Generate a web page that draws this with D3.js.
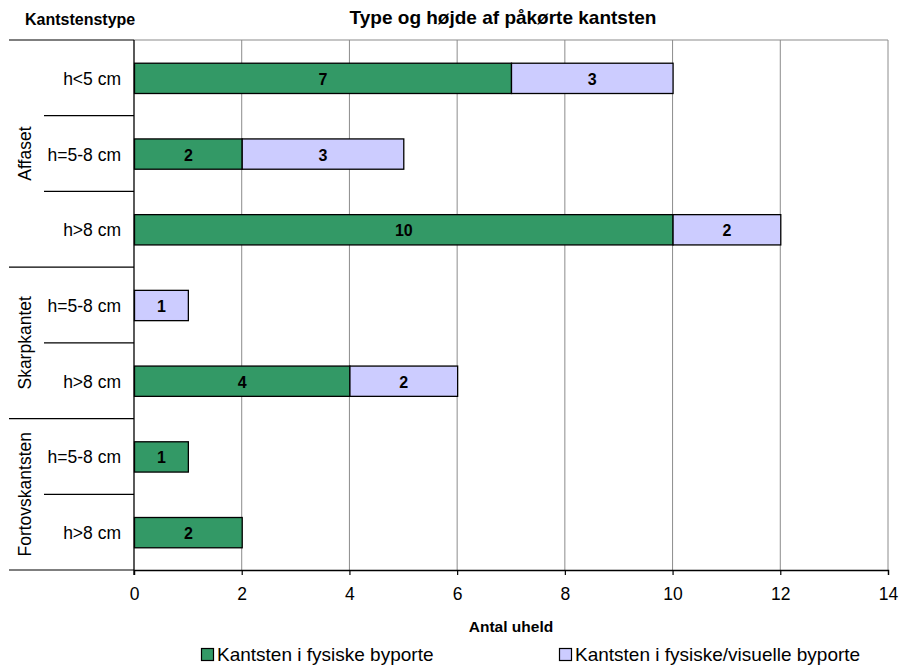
<!DOCTYPE html>
<html>
<head>
<meta charset="utf-8">
<script src="https://cdn.jsdelivr.net/npm/d3@7"></script>
<style>
  html, body { margin: 0; padding: 0; background: #fff; }
  svg { display: block; font-family: "Liberation Sans", Arial, sans-serif; }
</style>
</head>
<body>
<svg id="chart" width="901" height="665"></svg>
<script>
// Kerb type groups and height classes (top to bottom)
const groups = ["Affaset", "Skarpkantet", "Fortovskantsten"];
const rowGroup = ["Affaset", "Affaset", "Affaset", "Skarpkantet", "Skarpkantet", "Fortovskantsten", "Fortovskantsten"];
const rowLabels = ["h<5 cm", "h=5-8 cm", "h>8 cm", "h=5-8 cm", "h>8 cm", "h=5-8 cm", "h>8 cm"];
// Number of accidents per series
const seriesNames = ["Kantsten i fysiske byporte", "Kantsten i fysiske/visuelle byporte"];
const physical = [7, 2, 10, 0, 4, 1, 2];
const physicalVisual = [3, 3, 2, 1, 2, 0, 0];
const xTicks = [0, 2, 4, 6, 8, 10, 12, 14];
const colors = ["#339966", "#ccccff"];

const svg = d3.select("#chart");
const m = { left: 134, right: 888, top: 40, bottom: 570 };

const x = d3.scaleLinear().domain([0, 14]).range([m.left, m.right]);
const rowIds = d3.range(rowLabels.length);
const y = d3.scaleBand().domain(rowIds).range([m.top, m.bottom]).paddingInner(0.6).paddingOuter(0.3);
const yRow = d3.scaleBand().domain(rowIds).range([m.top, m.bottom]);

// Plot frame (top edge) and gridlines
svg.append("line").attr("x1", m.left).attr("x2", m.right).attr("y1", m.top).attr("y2", m.top)
  .attr("stroke", "#8c8c8c").attr("stroke-width", 1.2);
svg.append("g").selectAll("line").data(xTicks.slice(1)).join("line")
  .attr("x1", d => x(d)).attr("x2", d => x(d)).attr("y1", m.top).attr("y2", m.bottom)
  .attr("stroke", "#8c8c8c").attr("stroke-width", 1);

// Stacked bars
const stackData = rowIds.map(i => ({ id: i, a: physical[i], b: physicalVisual[i] }));
const stacked = d3.stack().keys(["a", "b"])(stackData);
const barG = svg.append("g");
stacked.forEach((layer, li) => {
  layer.forEach(seg => {
    const v = seg[1] - seg[0];
    if (v <= 0) return;
    const row = seg.data.id;
    barG.append("rect")
      .attr("x", x(seg[0]) + 0.5).attr("y", y(row) + 0.5)
      .attr("width", x(seg[1]) - x(seg[0])).attr("height", y.bandwidth())
      .attr("fill", colors[li]).attr("stroke", "#000").attr("stroke-width", 1.3);
    barG.append("text")
      .attr("x", (x(seg[0]) + x(seg[1])) / 2 + 0.5).attr("y", y(row) + y.bandwidth() / 2 + 1.5)
      .attr("text-anchor", "middle").attr("dominant-baseline", "central")
      .attr("font-size", 16).attr("font-weight", "bold").text(v);
  });
});

// X axis
const xAxis = svg.append("g").attr("transform", `translate(0,${m.bottom})`)
  .call(d3.axisBottom(x).tickValues(xTicks).tickSize(5).tickPadding(13).tickFormat(d3.format("d")));
xAxis.select(".domain").attr("stroke", "#000").attr("stroke-width", 1.3);
xAxis.selectAll(".tick line").attr("stroke", "#000").attr("stroke-width", 1.2);
xAxis.selectAll("text").attr("font-size", 17.5).attr("font-family", "Liberation Sans, Arial, sans-serif").attr("fill", "#000");

// Y axis line
svg.append("line").attr("x1", m.left).attr("x2", m.left).attr("y1", m.top).attr("y2", m.bottom + 5)
  .attr("stroke", "#000").attr("stroke-width", 1.3);

// Category separators: long lines between groups, short between rows
const bounds = d3.range(rowLabels.length + 1);
svg.append("g").selectAll("line").data(bounds).join("line")
  .attr("x1", i => (i === 0 || i === rowLabels.length || rowGroup[i] !== rowGroup[i - 1]) ? 9 : 44)
  .attr("x2", m.left)
  .attr("y1", i => i < rowLabels.length ? yRow(i) : m.bottom)
  .attr("y2", i => i < rowLabels.length ? yRow(i) : m.bottom)
  .attr("stroke", "#000").attr("stroke-width", 1.2);

// Row labels
svg.append("g").selectAll("text").data(rowIds).join("text")
  .attr("x", 121).attr("y", i => yRow(i) + yRow.bandwidth() / 2 + 1)
  .attr("text-anchor", "end").attr("dominant-baseline", "central")
  .attr("font-size", 17.5).text(i => rowLabels[i]);

// Group labels (rotated)
groups.forEach(g => {
  const idx = rowIds.filter(i => rowGroup[i] === g);
  const cy = (yRow(idx[0]) + yRow(idx[idx.length - 1]) + yRow.bandwidth()) / 2;
  svg.append("text")
    .attr("transform", `translate(25,${cy}) rotate(-90)`)
    .attr("text-anchor", "middle").attr("dominant-baseline", "central")
    .attr("font-size", 17.5).text(g);
});

// Titles
svg.append("text").attr("x", 503).attr("y", 24).attr("text-anchor", "middle")
  .attr("font-size", 19).attr("font-weight", "bold").text("Type og højde af påkørte kantsten");
svg.append("text").attr("x", 25).attr("y", 25)
  .attr("font-size", 16).attr("font-weight", "bold").text("Kantstenstype");
svg.append("text").attr("x", 511).attr("y", 632).attr("text-anchor", "middle")
  .attr("font-size", 15.5).attr("font-weight", "bold").text("Antal uheld");

// Legend
const legendX = [201, 559];
const legend = svg.append("g");
seriesNames.forEach((name, i) => {
  legend.append("rect").attr("x", legendX[i] + 0.5).attr("y", 648.5).attr("width", 12).attr("height", 12)
    .attr("fill", colors[i]).attr("stroke", "#000").attr("stroke-width", 1.2);
  legend.append("text").attr("x", legendX[i] + 16).attr("y", 654)
    .attr("dominant-baseline", "central").attr("font-size", 19).text(name);
});
</script>
</body>
</html>
